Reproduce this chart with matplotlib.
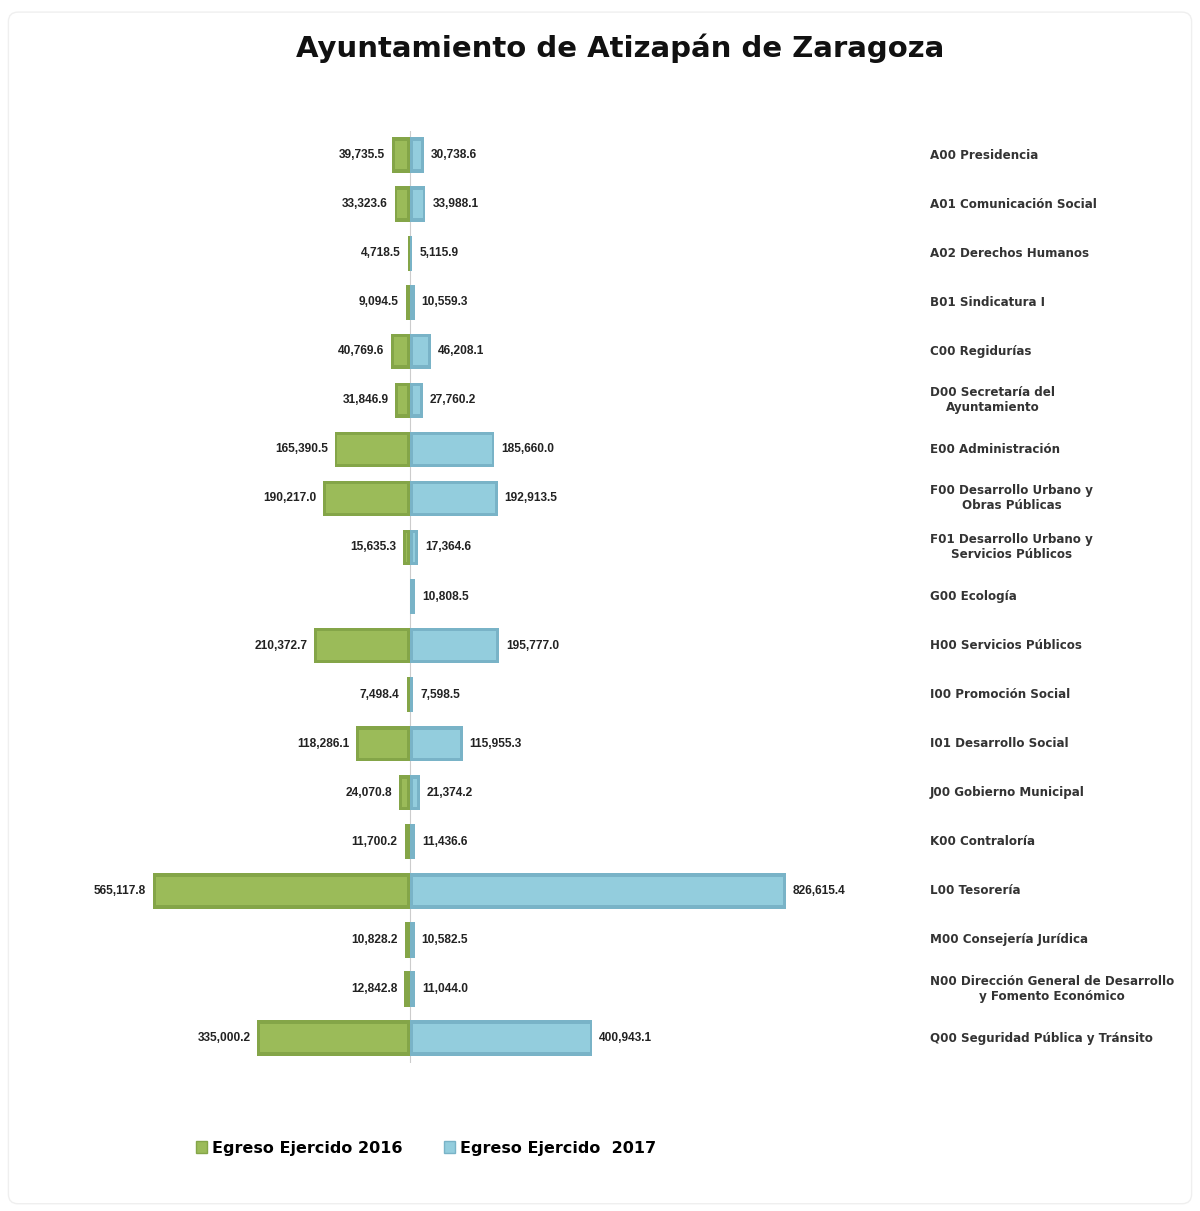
import numpy as np
import matplotlib

matplotlib.use("Agg")
import matplotlib.pyplot as plt
from matplotlib.patches import FancyBboxPatch, Patch
from matplotlib.transforms import blended_transform_factory

# Datos por dependencia (miles de pesos)
categorias = [
    "A00 Presidencia",
    "A01 Comunicación Social",
    "A02 Derechos Humanos",
    "B01 Sindicatura I",
    "C00 Regidurías",
    "D00 Secretaría del\nAyuntamiento",
    "E00 Administración",
    "F00 Desarrollo Urbano y\nObras Públicas",
    "F01 Desarrollo Urbano y\nServicios Públicos",
    "G00 Ecología",
    "H00 Servicios Públicos",
    "I00 Promoción Social",
    "I01 Desarrollo Social",
    "J00 Gobierno Municipal",
    "K00 Contraloría",
    "L00 Tesorería",
    "M00 Consejería Jurídica",
    "N00 Dirección General de Desarrollo\ny Fomento Económico",
    "Q00 Seguridad Pública y Tránsito",
]
egreso_2016 = [39735.5, 33323.6, 4718.5, 9094.5, 40769.6, 31846.9, 165390.5,
               190217.0, 15635.3, np.nan, 210372.7, 7498.4, 118286.1, 24070.8,
               11700.2, 565117.8, 10828.2, 12842.8, 335000.2]
egreso_2017 = [30738.6, 33988.1, 5115.9, 10559.3, 46208.1, 27760.2, 185660.0,
               192913.5, 17364.6, 10808.5, 195777.0, 7598.5, 115955.3, 21374.2,
               11436.6, 826615.4, 10582.5, 11044.0, 400943.1]

verde, verde_osc = "#9bbb59", "#84a548"
azul, azul_osc = "#93cddd", "#79b3c7"

v16 = np.array(egreso_2016)
v17 = np.array(egreso_2017)
y = np.arange(len(categorias))

fig = plt.figure(figsize=(12, 12.11), dpi=100)
fig.patches.append(FancyBboxPatch((0.007, 0.006), 0.986, 0.984,
                                  boxstyle="round,pad=0,rounding_size=0.008",
                                  transform=fig.transFigure, facecolor="white",
                                  edgecolor="#efefef", lw=1.0, zorder=-10))
ax = fig.add_axes([0.05, 0.1226, 0.70, 0.7696])
ax.set_facecolor("none")

alto = 0.72
bisel = 6000
ax.axvline(0, color="#cccccc", lw=0.8, zorder=1)

# barras con efecto de bisel: fondo oscuro + cara clara
ax.barh(y, -v16, height=alto, color=verde_osc, zorder=2)
ax.barh(y, v17, height=alto, color=azul_osc, zorder=2)
cara16 = np.clip(v16 - 2 * bisel, 0, None)
cara17 = np.clip(v17 - 2 * bisel, 0, None)
ax.barh(y, -cara16, left=-bisel, height=alto * 0.8, color=verde, zorder=3)
ax.barh(y, cara17, left=bisel, height=alto * 0.8, color=azul, zorder=3)

for yi, a, b in zip(y, v16, v17):
    if not np.isnan(a):
        ax.annotate(f"{a:,.1f}", (-a, yi), xytext=(-5, 0), textcoords="offset points",
                    ha="right", va="center", fontsize=8.6, fontweight="bold",
                    family="Liberation Sans", color="#222222")
    ax.annotate(f"{b:,.1f}", (b, yi), xytext=(5, 0), textcoords="offset points",
                ha="left", va="center", fontsize=8.6, fontweight="bold",
                family="Liberation Sans", color="#222222")

trans = blended_transform_factory(fig.transFigure, ax.transData)
for yi, nombre in zip(y, categorias):
    ax.text(0.775, yi, nombre, transform=trans, ha="left", va="center",
            multialignment="center", fontsize=8.6, fontweight="bold",
            color="#333333", linespacing=1.2)

ax.set_xlim(-769000, 1077000)
ax.set_ylim(len(categorias) - 0.5, -0.5)
ax.axis("off")

fig.text(0.517, 0.96, "Ayuntamiento de Atizapán de Zaragoza", ha="center",
         va="center", fontsize=21, fontweight="bold", color="#111111")

manejadores = [Patch(facecolor=verde, edgecolor=verde_osc),
               Patch(facecolor=azul, edgecolor=azul_osc)]
fig.legend(manejadores, ["Egreso Ejercido 2016", "Egreso Ejercido  2017"],
           loc="center", bbox_to_anchor=(0.355, 0.052), ncol=2, frameon=False,
           prop={"weight": "bold", "size": 11.5}, handlelength=0.7,
           handleheight=0.7, handletextpad=0.3, columnspacing=2.6)

fig.savefig("out.png", dpi=100, facecolor="white")
